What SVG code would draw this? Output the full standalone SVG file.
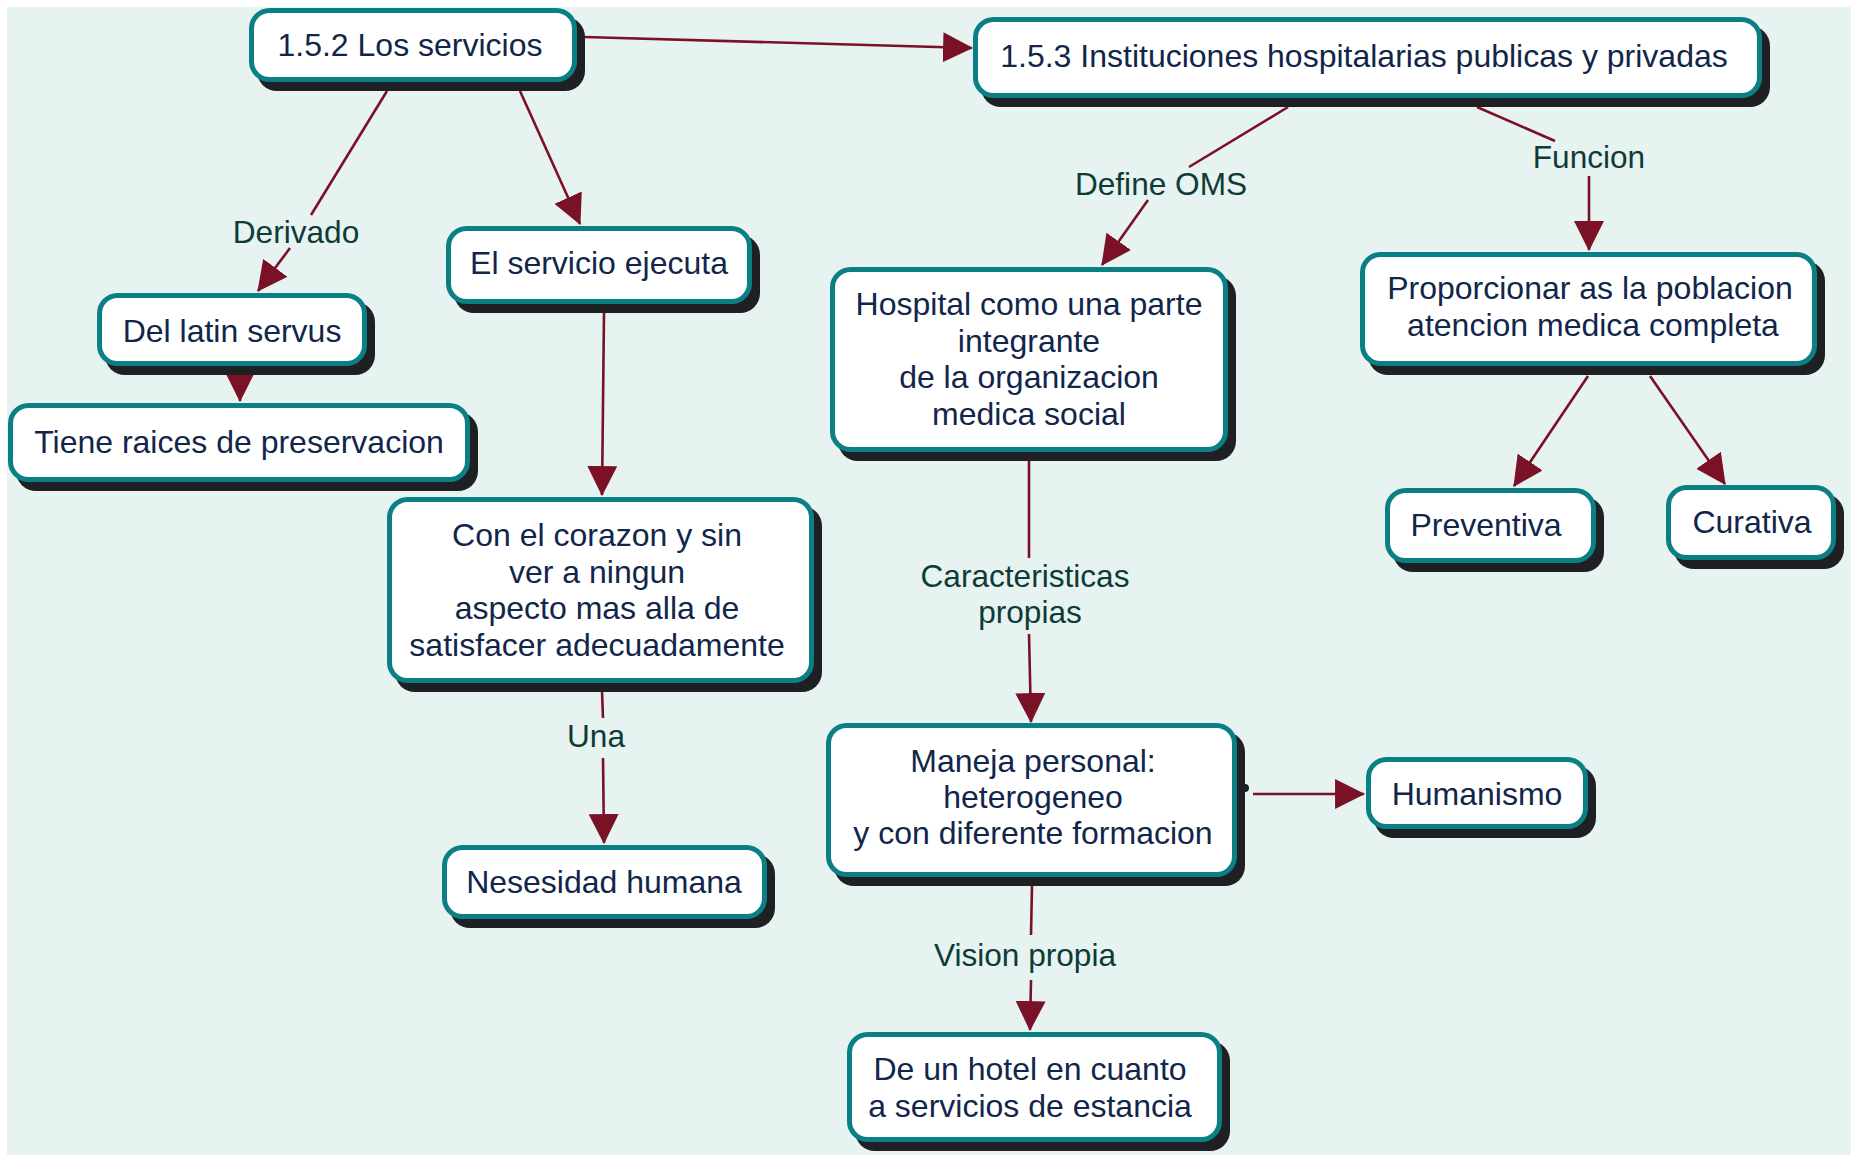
<svg xmlns="http://www.w3.org/2000/svg" width="1855" height="1155" viewBox="0 0 1855 1155">
  <style>
    .box { fill: #ffffff; stroke: #0b7f86; stroke-width: 5; }
    .shadow { fill: #1f2023; }
    .txt { font-family: "Liberation Sans", Arial, sans-serif; font-size: 32px; fill: #11264a; text-anchor: middle; }
    .lbl { font-family: "Liberation Sans", Arial, sans-serif; font-size: 31.6px; fill: #0e3b37; text-anchor: middle; }
    .edge { fill: none; stroke: #7b1126; stroke-width: 2.6; }
  </style>
  <defs>
    <marker id="arrow" markerUnits="userSpaceOnUse" markerWidth="30" markerHeight="30" viewBox="0 0 28 28" refX="27" refY="14" orient="auto">
      <path d="M0,0 L28,14 L0,28 z" fill="#7b1126"/>
    </marker>
  </defs>

  <!-- canvas -->
  <rect x="0" y="0" width="1855" height="1155" fill="#ffffff"/>
  <rect x="7" y="7" width="1844" height="1148" fill="#e7f3f0"/>

  <!-- connectors -->
  <g id="connectors">
    <path class="edge" d="M584,37 L972,48" marker-end="url(#arrow)"/>
    <path class="edge" d="M387,91 L311,215"/>
    <path class="edge" d="M290,248 L258,291" marker-end="url(#arrow)"/>
    <path class="edge" d="M520,91 L580,224" marker-end="url(#arrow)"/>
    <path class="edge" d="M240,368 L240,401" marker-end="url(#arrow)"/>
    <path class="edge" d="M604,313 L602,495" marker-end="url(#arrow)"/>
    <path class="edge" d="M602,691 L603,718"/>
    <path class="edge" d="M603,758 L604,843" marker-end="url(#arrow)"/>
    <path class="edge" d="M1288,107 L1189,167"/>
    <path class="edge" d="M1148,200 L1102,265" marker-end="url(#arrow)"/>
    <path class="edge" d="M1477,107 L1555,141"/>
    <path class="edge" d="M1589,176 L1589,250" marker-end="url(#arrow)"/>
    <path class="edge" d="M1588,376 L1514,486" marker-end="url(#arrow)"/>
    <path class="edge" d="M1650,376 L1725,484" marker-end="url(#arrow)"/>
    <path class="edge" d="M1029,459 L1029,558"/>
    <path class="edge" d="M1029,634 L1031,722" marker-end="url(#arrow)"/>
    <circle cx="1245" cy="788" r="4" fill="#1f2023"/>
    <path class="edge" d="M1253,794 L1364,794" marker-end="url(#arrow)"/>
    <path class="edge" d="M1032,885 L1031,935"/>
    <path class="edge" d="M1031,980 L1030,1030" marker-end="url(#arrow)"/>

    <text class="lbl" x="296" y="243">Derivado</text>
    <text class="lbl" x="596" y="747">Una</text>
    <text class="lbl" x="1161" y="195">Define OMS</text>
    <text class="lbl" x="1589" y="168">Funcion</text>
    <text class="lbl" x="1025" y="587">Caracteristicas</text>
    <text class="lbl" x="1030" y="623">propias</text>
    <text class="lbl" x="1025" y="966">Vision propia</text>
  </g>

  <!-- nodes -->
  <g id="n-servicios">
    <rect class="shadow" x="257" y="17" width="328" height="74" rx="20"/>
    <rect class="box" x="251.5" y="10.5" width="323" height="69" rx="18"/>
    <text class="txt" x="410" y="56">1.5.2 Los servicios</text>
  </g>

  <g id="n-instituciones">
    <rect class="shadow" x="981" y="26" width="789" height="81" rx="20"/>
    <rect class="box" x="975.5" y="19.5" width="784" height="76" rx="18"/>
    <text class="txt" x="1364" y="67">1.5.3 Instituciones hospitalarias publicas y privadas</text>
  </g>

  <g id="n-ejecuta">
    <rect class="shadow" x="454" y="235" width="306" height="78" rx="20"/>
    <rect class="box" x="448.5" y="228.5" width="301" height="73" rx="18"/>
    <text class="txt" x="599" y="274">El servicio ejecuta</text>
  </g>

  <g id="n-latin">
    <rect class="shadow" x="105" y="302" width="270" height="73" rx="20"/>
    <rect class="box" x="99.5" y="295.5" width="265" height="68" rx="18"/>
    <text class="txt" x="232" y="342">Del latin servus</text>
  </g>

  <g id="n-raices">
    <rect class="shadow" x="16" y="412" width="462" height="79" rx="20"/>
    <rect class="box" x="10.5" y="405.5" width="457" height="74" rx="18"/>
    <text class="txt" x="239" y="453">Tiene raices de preservacion</text>
  </g>

  <g id="n-corazon">
    <rect class="shadow" x="395" y="506" width="427" height="186" rx="20"/>
    <rect class="box" x="389.5" y="499.5" width="422" height="181" rx="18"/>
    <text class="txt" x="597" y="546">Con el corazon y sin</text>
    <text class="txt" x="597" y="583">ver a ningun</text>
    <text class="txt" x="597" y="619">aspecto mas alla de</text>
    <text class="txt" x="597" y="656">satisfacer adecuadamente</text>
  </g>

  <g id="n-necesidad">
    <rect class="shadow" x="450" y="854" width="325" height="74" rx="20"/>
    <rect class="box" x="444.5" y="847.5" width="320" height="69" rx="18"/>
    <text class="txt" x="604" y="893">Nesesidad humana</text>
  </g>

  <g id="n-hospital">
    <rect class="shadow" x="838" y="276" width="398" height="185" rx="20"/>
    <rect class="box" x="832.5" y="269.5" width="393" height="180" rx="18"/>
    <text class="txt" x="1029" y="315">Hospital como una parte</text>
    <text class="txt" x="1029" y="352">integrante</text>
    <text class="txt" x="1029" y="388">de la organizacion</text>
    <text class="txt" x="1029" y="425">medica social</text>
  </g>

  <g id="n-proporcionar">
    <rect class="shadow" x="1368" y="261" width="457" height="114" rx="20"/>
    <rect class="box" x="1362.5" y="254.5" width="452" height="109" rx="18"/>
    <text class="txt" x="1590" y="299">Proporcionar as la poblacion</text>
    <text class="txt" x="1593" y="336">atencion medica completa</text>
  </g>

  <g id="n-preventiva">
    <rect class="shadow" x="1393" y="497" width="211" height="75" rx="20"/>
    <rect class="box" x="1387.5" y="490.5" width="206" height="70" rx="18"/>
    <text class="txt" x="1486" y="536">Preventiva</text>
  </g>

  <g id="n-curativa">
    <rect class="shadow" x="1674" y="494" width="170" height="75" rx="20"/>
    <rect class="box" x="1668.5" y="487.5" width="165" height="70" rx="18"/>
    <text class="txt" x="1752" y="533">Curativa</text>
  </g>

  <g id="n-maneja">
    <rect class="shadow" x="834" y="732" width="411" height="154" rx="20"/>
    <rect class="box" x="828.5" y="725.5" width="406" height="149" rx="18"/>
    <text class="txt" x="1033" y="772">Maneja personal:</text>
    <text class="txt" x="1033" y="808">heterogeneo</text>
    <text class="txt" x="1033" y="844">y con diferente formacion</text>
  </g>

  <g id="n-humanismo">
    <rect class="shadow" x="1374" y="766" width="222" height="72" rx="20"/>
    <rect class="box" x="1368.5" y="759.5" width="217" height="67" rx="18"/>
    <text class="txt" x="1477" y="805">Humanismo</text>
  </g>

  <g id="n-hotel">
    <rect class="shadow" x="855" y="1041" width="375" height="110" rx="20"/>
    <rect class="box" x="849.5" y="1034.5" width="370" height="105" rx="18"/>
    <text class="txt" x="1030" y="1080">De un hotel en cuanto</text>
    <text class="txt" x="1030" y="1117">a servicios de estancia</text>
  </g>
</svg>
